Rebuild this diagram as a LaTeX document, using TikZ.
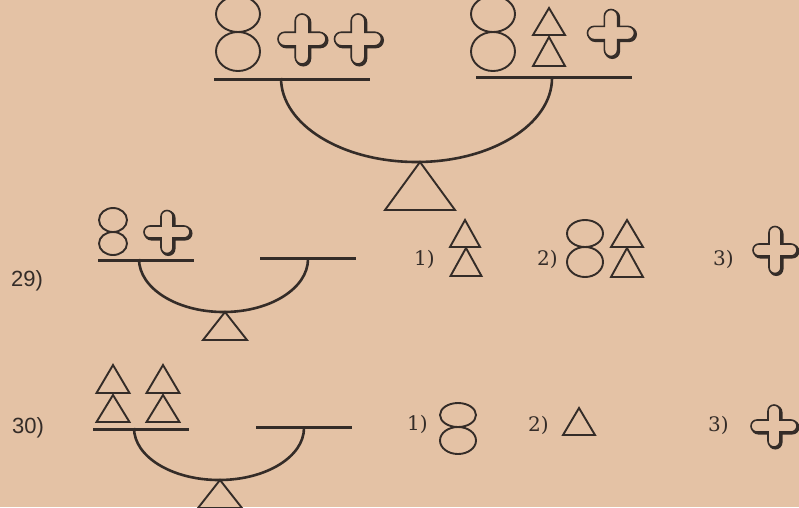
\documentclass[tikz,border=0pt]{standalone}
\usepackage{fontspec}
\newfontfamily\labsans{Liberation Sans}
\newfontfamily\labserif{DejaVu Serif}
\definecolor{paper}{RGB}{228,194,165}
\definecolor{ink}{RGB}{52,44,40}
\tikzset{
  inkline/.style={draw=ink, line width=1.9pt},
  beamline/.style={draw=ink, line width=3pt},
  arcline/.style={draw=ink, line width=2.6pt},
  numlabel/.style={inner sep=0pt, anchor=base west, text=ink, font=\labsans\fontsize{22}{22}\selectfont},
  optlabel/.style={inner sep=0pt, anchor=base west, text=ink, font=\labserif\fontsize{20}{20}\selectfont},
  pics/eightshape/.style n args={3}{code={
    \draw[inkline] (0,-#2) ellipse [x radius=#1, y radius=#2];
    \draw[inkline] (0,#3) ellipse [x radius=#1, y radius=#3];
  }},
  pics/trishape/.style n args={2}{code={
    \draw[inkline, line join=miter] (0,0) -- ({#1/2},#2) -- ({-#1/2},#2) -- cycle;
  }},
  pics/crossshape/.style n args={3}{code={
    \def\crosspath{(#3,#3) -- (#3,{#2-#3}) arc[start angle=0, end angle=180, radius=#3]
      -- (-#3,#3) -- ({-#1+#3},#3) arc[start angle=90, end angle=270, radius=#3]
      -- (-#3,-#3) -- (-#3,{-#2+#3}) arc[start angle=180, end angle=360, radius=#3]
      -- (#3,-#3) -- ({#1-#3},-#3) arc[start angle=-90, end angle=90, radius=#3] -- cycle}
    \draw[draw=ink, line width=2.4pt, shift={(1.3,1.3)}] \crosspath;
    \draw[draw=ink, fill=paper, line width=1.6pt] \crosspath;
  }}
}
\begin{document}
\begin{tikzpicture}[x=1pt, y=-1pt]
\fill[paper] (0,0) rectangle (799,507);
\useasboundingbox (0,0) rectangle (799,507);

% ---------- top scale ----------
\draw[beamline] (214,79) -- (370,79);
\draw[beamline] (476,77) -- (632,77);
\draw[arcline] (281,78) arc[start angle=180, end angle=0, x radius=135.5, y radius=84];
\pic at (420,162) {trishape={70}{48}};
\pic at (238,32) {eightshape={22}{18}{19.5}};
\pic at (302,39) {crossshape={24}{25}{6.8}};
\pic at (358,39) {crossshape={23.5}{25}{6.8}};
\pic at (493,32) {eightshape={22}{18}{19.5}};
\pic at (549,8) {trishape={32}{27}};
\pic at (549,37) {trishape={32}{29}};
\pic at (611,33) {crossshape={23.5}{23.5}{6.6}};

% ---------- problem 29 ----------
\node[numlabel] (n29) at (11,286) {29)};
\draw[beamline] (98,260) -- (194,260);
\draw[beamline] (260,258) -- (356,258);
\draw[arcline] (139,259) arc[start angle=180, end angle=0, x radius=84.5, y radius=53];
\pic at (225,312) {trishape={44}{28}};
\pic at (113,232) {eightshape={14}{12}{11.5}};
\pic at (167,232) {crossshape={23}{21.5}{6}};

\node[optlabel] (a1) at (414,265) {1)};
\pic at (465,220) {trishape={30}{27}};
\pic at (466,248) {trishape={31}{28}};
\node[optlabel] (a2) at (537,265) {2)};
\pic at (585,247) {eightshape={18}{13.5}{15}};
\pic at (627,220) {trishape={32}{27}};
\pic at (627,248) {trishape={32}{29}};
\node[optlabel] (a3) at (713,265) {3)};
\pic at (775,250) {crossshape={22}{23.5}{6}};

% ---------- problem 30 ----------
\node[numlabel] (n30) at (12,433) {30)};
\draw[beamline] (93,429) -- (189,429);
\draw[beamline] (256,427) -- (352,427);
\draw[arcline] (134,428) arc[start angle=180, end angle=0, x radius=85, y radius=52];
\pic at (220,480) {trishape={44}{28}};
\pic at (113,365) {trishape={33}{28}};
\pic at (113,395) {trishape={33}{27}};
\pic at (163,365) {trishape={33}{28}};
\pic at (163,395) {trishape={33}{27}};

\node[optlabel] (b1) at (407,430) {1)};
\pic at (458,427) {eightshape={18}{12}{13.5}};
\node[optlabel] (b2) at (528,431) {2)};
\pic at (579,408) {trishape={32}{27}};
\node[optlabel] (b3) at (708,431) {3)};
\pic at (774,426) {crossshape={23}{21}{6}};
\end{tikzpicture}
\end{document}
